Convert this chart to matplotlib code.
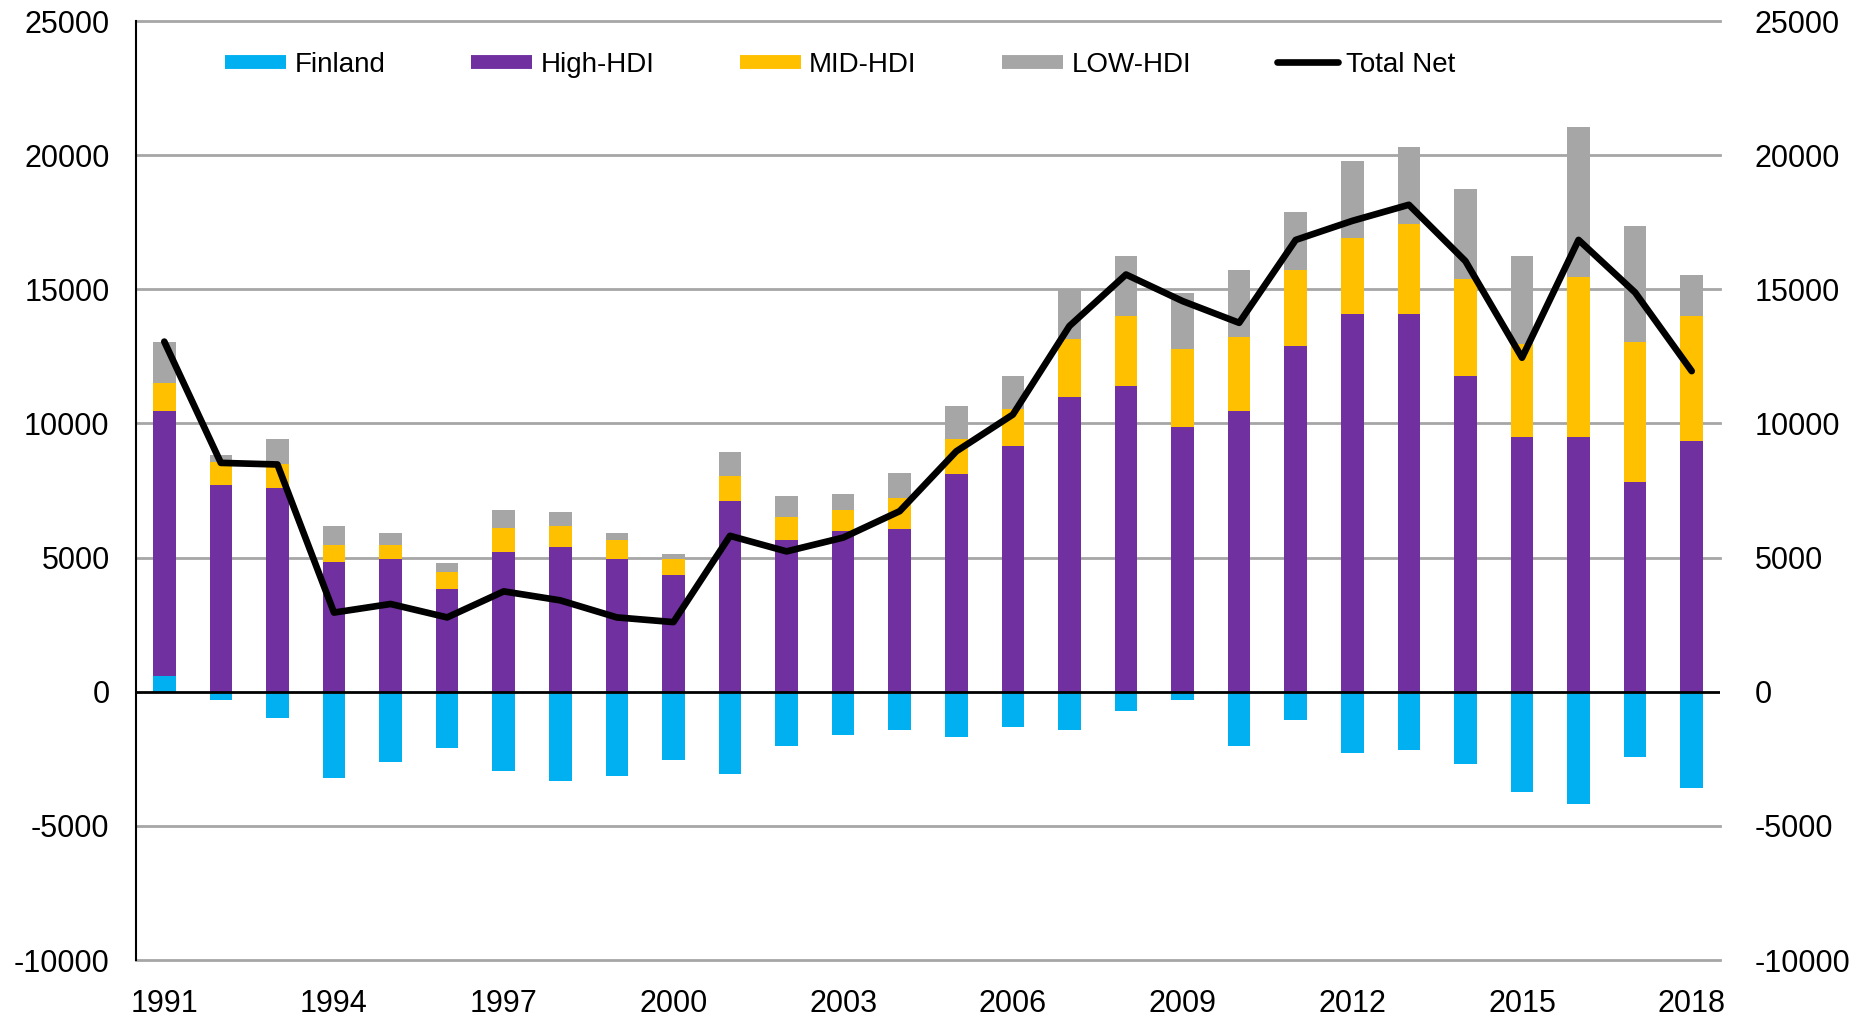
"""
Net migration by origin group, Finland 1991-2018
"""

import numpy as np
import matplotlib.pyplot as plt
from matplotlib.lines import Line2D

plt.rcParams['font.family'] = ['Liberation Sans', 'DejaVu Sans']

years = list(range(1991, 2019))

finland = [570, -300, -990, -3230, -2620, -2110, -2970, -3320, -3150, -2540,
           -3070, -2030, -1600, -1420, -1690, -1320, -1420, -715, -300, -2030,
           -1070, -2270, -2190, -2700, -3740, -4180, -2450, -3580]
high_hdi = [9880, 7690, 7600, 4850, 4960, 3840, 5220, 5380, 4960, 4350,
            7110, 5640, 5990, 6070, 8120, 9150, 10980, 11390, 9850, 10445,
            12870, 14080, 14080, 11750, 9500, 9500, 7800, 9330]
mid_hdi = [1045, 855, 870, 620, 510, 610, 865, 785, 690, 610,
           945, 880, 785, 1150, 1305, 1395, 2150, 2600, 2935, 2775,
           2835, 2850, 3360, 3620, 3445, 5970, 5245, 4665]
low_hdi = [1555, 275, 945, 690, 430, 340, 690, 515, 255, 175,
           865, 770, 610, 930, 1210, 1205, 1890, 2240, 2065, 2485,
           2165, 2835, 2860, 3360, 3285, 5585, 4305, 1540]
total_net = [13050, 8530, 8470, 2950, 3270, 2770, 3740, 3405, 2770, 2595,
             5810, 5230, 5745, 6730, 8960, 10330, 13630, 15550, 14560, 13750,
             16840, 17550, 18150, 16050, 12450, 16840, 14880, 11950]

yticks = [-10000, -5000, 0, 5000, 10000, 15000, 20000, 25000]

c_fin = '#00B0F0'
c_high = '#7030A0'
c_mid = '#FFC000'
c_low = '#A6A6A6'

fig = plt.figure(figsize=(18.6, 10.18), dpi=100)
ax = fig.add_axes([136/1860, 1-960/1018, (1720-136)/1860, (960-21)/1018])

x = np.arange(len(years))
fin = np.array(finland)
hi = np.array(high_hdi)
mid = np.array(mid_hdi)
low = np.array(low_hdi)
base = np.where(fin > 0, fin, 0)

w = 0.4
ax.bar(x, fin, w, color=c_fin, zorder=2)
ax.bar(x, hi, w, bottom=base, color=c_high, zorder=2)
ax.bar(x, mid, w, bottom=base+hi, color=c_mid, zorder=2)
ax.bar(x, low, w, bottom=base+hi+mid, color=c_low, zorder=2)
ax.plot(x, total_net, color='k', lw=4.8, solid_joinstyle='round',
        solid_capstyle='round', zorder=4)

ax.set_xlim(-0.5, len(years)-0.5)
ax.set_ylim(-10000, 25000)
ax.set_yticks(yticks)
ax.set_yticklabels([str(v) for v in yticks])
ax.set_xticks(x[::3])
ax.set_xticklabels([str(y) for y in years[::3]])
for v in yticks:
    if v != 0:
        ax.axhline(v, color='#A6A6A6', lw=2, zorder=1, clip_on=False)
ax.axhline(0, color='k', lw=2, zorder=3)

for s in ['top', 'right', 'bottom']:
    ax.spines[s].set_visible(False)
ax.spines['left'].set_linewidth(1.5)
ax.spines['left'].set_zorder(5)
ax.tick_params(axis='both', length=0, labelsize=22)
ax.tick_params(axis='y', pad=19)
ax.tick_params(axis='x', pad=21)

ax2 = ax.twinx()
ax2.set_ylim(-10000, 25000)
ax2.set_yticks(yticks)
ax2.set_yticklabels([str(v) for v in yticks])
for s in ax2.spines.values():
    s.set_visible(False)
ax2.tick_params(axis='y', length=0, labelsize=22, pad=25)

handles = [
    Line2D([], [], color=c_fin, lw=10, solid_capstyle='butt'),
    Line2D([], [], color=c_high, lw=10, solid_capstyle='butt'),
    Line2D([], [], color=c_mid, lw=10, solid_capstyle='butt'),
    Line2D([], [], color=c_low, lw=10, solid_capstyle='butt'),
    Line2D([], [], color='k', lw=4.8, solid_capstyle='round'),
]
labels = ['Finland', 'High-HDI', 'MID-HDI', 'LOW-HDI', 'Total Net']
fig.legend(handles, labels, loc='center left', bbox_to_anchor=(225/1860, 1-65/1018),
           ncol=5, frameon=False, fontsize=20, handlelength=2.2, handletextpad=0.3,
           columnspacing=3.08, borderpad=0, borderaxespad=0)

fig.savefig('out.png', dpi=100)
